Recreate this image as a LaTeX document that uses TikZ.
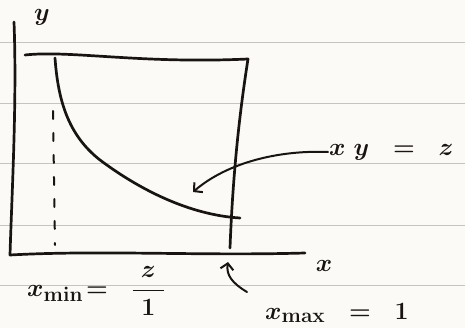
\documentclass[tikz,border=0pt]{standalone}
\usepackage{amsmath}
\usetikzlibrary{arrows.meta,positioning}
\definecolor{inkblack}{RGB}{24,20,18}
\definecolor{paperwhite}{RGB}{251,250,246}
\definecolor{rulegray}{RGB}{196,196,194}
\tikzset{
  ink/.style={draw=inkblack,line width=2.7pt,line cap=round,line join=round},
  rule/.style={draw=rulegray,line width=0.9pt},
  guide/.style={draw=inkblack,line width=2pt,line cap=round,
    dash pattern=on 8pt off 14pt},
  pointer/.style={draw=inkblack,line width=2pt,line cap=round,
    -{Straight Barb[length=6pt,width=13pt]}},
  lab/.style={text=inkblack,inner sep=1pt,font=\fontsize{32}{36}\selectfont\boldmath},
  biglab/.style={text=inkblack,inner sep=1pt,font=\fontsize{42}{46}\selectfont\boldmath}
}
\begin{document}
\begin{tikzpicture}[x=1pt,y=-1pt]
  \fill[paperwhite] (0,0) rectangle (465,328);
  \useasboundingbox (0,0) rectangle (465,328);
  \foreach \ry in {42,103,163,225,285}
    \draw[rule] (0,\ry) -- (465,\ry);
  % axes
  \coordinate (ytop) at (14,22);
  \coordinate (orig) at (10,255);
  \coordinate (xend) at (305,253);
  \draw[ink] (ytop) .. controls (17,100) and (12,190) .. (orig)
    .. controls (100,250) and (200,256) .. (xend);
  \node[lab] (ylab) at (42,17) {$y$};
  \node[lab] (xlab) at (324,266) {$x$};
  % box
  \coordinate (tl) at (25,55);
  \coordinate (tr) at (248,59);
  \coordinate (br) at (230,248);
  \draw[ink] (tl) .. controls (70,50) and (140,64) .. (tr)
    .. controls (240,110) and (233,170) .. (br);
  % curve xy=z
  \coordinate (cstart) at (55,58);
  \coordinate (cend) at (240,218);
  \draw[ink] (cstart) .. controls (58,100) and (68,135) .. (100,160)
    .. controls (140,190) and (190,215) .. (cend);
  \coordinate (gtop) at (53,111);
  \coordinate (gbot) at (55,245);
  \draw[guide] (gtop) -- (gbot);
  % labels
  \node[biglab,anchor=west] (eqn) at (328,152) {$x\;y \;\;=\;\; z$};
  \coordinate (tipc) at (193,192);
  \draw[pointer] (eqn.west) .. controls (280,150) and (228,162) .. (tipc);
  \node[lab,anchor=west] (xmin) at (26,291) {$x_{\min} \!=\; \;\dfrac{\;z\;}{1}$};
  \node[lab,anchor=west] (xmax) at (264,313) {$x_{\max} \;\;=\;\; 1$};
  \coordinate (tipm) at (228,262);
  \draw[pointer] (247,292) .. controls (232,283) and (226,275) .. (tipm);
\end{tikzpicture}
\end{document}
